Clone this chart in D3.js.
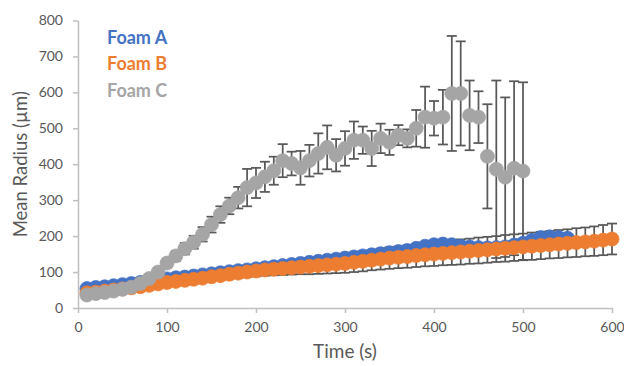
<!DOCTYPE html>
<html>
<head>
<meta charset="utf-8">
<script src="https://cdn.jsdelivr.net/npm/d3@7"></script>
<style>
  html, body { margin: 0; padding: 0; background: #fff; }
  svg { display: block; font-family: Lato, "Open Sans", sans-serif; }
</style>
</head>
<body>
<svg id="chart" width="624" height="366"></svg>
<script>
// ---------- data ----------
const seriesNames = ["Foam A", "Foam B", "Foam C"];
const seriesColors = ["#4472C4", "#ED7D31", "#A5A5A5"];

const timeA = [10,20,30,40,50,60,70,80,90,100,110,120,130,140,150,160,170,180,190,200,210,220,230,240,250,260,270,280,290,300,310,320,330,340,350,360,370,380,390,400,410,420,430,440,450,460,470,480,490,500,510,520,530,540,550];
const meanA = [54,57,59,62,65,68,71,74,78,81,84,86,89,92,95,98,101,104,106,109,112,115,118,121,124,127,130,133,136,139,142,145,148,151,154,157,160,166,172,176,178,176,172,170,168,167,168,170,175,180,188,196,198,196,194];
const errA  = [3,3,3,3,3,4,4,4,4,4,5,5,5,5,5,5,6,6,6,6,6,6,6,7,7,7,7,7,7,7,8,8,8,8,8,8,8,8,9,9,9,9,9,9,9,9,9,10,10,10,10,10,10,10,10];

const timeB = [10,20,30,40,50,60,70,80,90,100,110,120,130,140,150,160,170,180,190,200,210,220,230,240,250,260,270,280,290,300,310,320,330,340,350,360,370,380,390,400,410,420,430,440,450,460,470,480,490,500,510,520,530,540,550,560,570,580,590,600];
const meanB = [42,44,47,50,53,56,59,63,67,71,74,77,80,83,87,90,94,97,100,103,106,108,110,112,114,116,118,120,122,124,127,130,133,136,139,141,143,146,148,150,152,154,156,158,160,162,164,166,168,170,172,174,176,178,180,182,184,186,189,192];
const errB  = [3,3,4,4,5,5,6,6,7,8,8,9,10,10,11,12,13,14,14,15,16,17,18,19,20,22,23,24,25,26,27,28,28,29,30,30,31,32,32,33,33,34,35,35,36,36,36,37,37,37,38,38,38,39,39,40,40,41,42,43];

const timeC = [10,20,30,40,50,60,70,80,90,100,110,120,130,140,150,160,170,180,190,200,210,220,230,240,250,260,270,280,290,300,310,320,330,340,350,360,370,380,390,400,410,420,430,440,450,460,470,480,490,500];
const meanC = [36,40,43,47,52,58,68,82,100,125,145,165,183,205,232,260,284,307,335,348,365,382,410,402,390,410,430,447,425,444,467,467,444,472,461,481,472,500,531,528,531,597,597,536,531,422,386,364,389,381];
const errC  = [3,3,3,4,4,5,6,8,10,12,14,16,18,20,22,23,23,30,52,42,42,39,46,33,47,44,56,61,45,48,52,38,49,41,35,28,25,51,85,48,76,160,145,97,72,145,247,222,242,247];

const xTicks = [0,100,200,300,400,500,600];
const yTicks = [0,100,200,300,400,500,600,700,800];
const xTitle = "Time (s)";
const yTitle = "Mean Radius (µm)";

// ---------- layout ----------
const W = 624, H = 366;
const margin = { left: 78, right: 12, top: 20.5, bottom: 58 };
const svg = d3.select("#chart");

const x = d3.scaleLinear().domain([0, 600]).range([margin.left, W - margin.right]);
const y = d3.scaleLinear().domain([0, 800]).range([H - margin.bottom, margin.top]);

const axisColor = "#BFBFBF";
const textColor = "#595959";

// axes
const gx = svg.append("g")
  .attr("transform", `translate(0,${H - margin.bottom})`)
  .call(d3.axisBottom(x).tickValues(xTicks).tickSize(5).tickPadding(9).tickSizeOuter(0));
const gy = svg.append("g")
  .attr("transform", `translate(${margin.left},0)`)
  .call(d3.axisLeft(y).tickValues(yTicks).tickSize(5).tickPadding(10).tickSizeOuter(0));

[gx, gy].forEach(g => {
  g.select(".domain").attr("stroke", axisColor).attr("stroke-width", 1.5);
  g.selectAll(".tick line").attr("stroke", axisColor).attr("stroke-width", 1.5);
  g.selectAll(".tick text").attr("fill", textColor)
    .style("font-size", "14px").style("font-family", "Lato, 'Open Sans', sans-serif");
});

// titles
svg.append("text")
  .attr("x", (x(0) + x(600)) / 2).attr("y", 358)
  .attr("text-anchor", "middle")
  .attr("fill", textColor)
  .style("font-size", "19px")
  .text(xTitle);

svg.append("text")
  .attr("transform", `translate(20,${(y(0) + y(800)) / 2 + 0}) rotate(-90)`)
  .attr("text-anchor", "middle")
  .attr("dominant-baseline", "central")
  .attr("fill", textColor)
  .style("font-size", "18.5px")
  .text(yTitle);

// series
const series = [
  { t: timeA, m: meanA, e: errA },
  { t: timeB, m: meanB, e: errB },
  { t: timeC, m: meanC, e: errC }
].map((s, i) => ({
  name: seriesNames[i], color: seriesColors[i],
  pts: s.t.map((t, k) => ({ t, m: s.m[k], e: s.e[k] }))
}));

const barColor = "#595959";
const capHalf = 5;

// error bars (below all markers)
const errLayer = svg.append("g");
series.forEach(s => {
  const g = errLayer.append("g");
  g.selectAll("line.v").data(s.pts).join("line")
    .attr("x1", d => x(d.t)).attr("x2", d => x(d.t))
    .attr("y1", d => y(d.m - d.e)).attr("y2", d => y(d.m + d.e))
    .attr("stroke", barColor).attr("stroke-width", 1.75);
  g.selectAll("line.top").data(s.pts).join("line")
    .attr("x1", d => x(d.t) - capHalf).attr("x2", d => x(d.t) + capHalf)
    .attr("y1", d => y(d.m + d.e)).attr("y2", d => y(d.m + d.e))
    .attr("stroke", barColor).attr("stroke-width", 1.75);
  g.selectAll("line.bot").data(s.pts).join("line")
    .attr("x1", d => x(d.t) - capHalf).attr("x2", d => x(d.t) + capHalf)
    .attr("y1", d => y(d.m - d.e)).attr("y2", d => y(d.m - d.e))
    .attr("stroke", barColor).attr("stroke-width", 1.75);
});

// markers
series.forEach(s => {
  svg.append("g").selectAll("circle").data(s.pts).join("circle")
    .attr("cx", d => x(d.t)).attr("cy", d => y(d.m)).attr("r", 7)
    .attr("fill", s.color).attr("stroke", s.color).attr("stroke-width", 0.75);
});

// legend (text only)
const legendY = [44, 70, 97];
series.forEach((s, i) => {
  svg.append("text")
    .attr("x", 107).attr("y", legendY[i])
    .attr("fill", s.color)
    .style("font-size", "18px").style("font-weight", "bold")
    .text(s.name);
});
</script>
</body>
</html>
